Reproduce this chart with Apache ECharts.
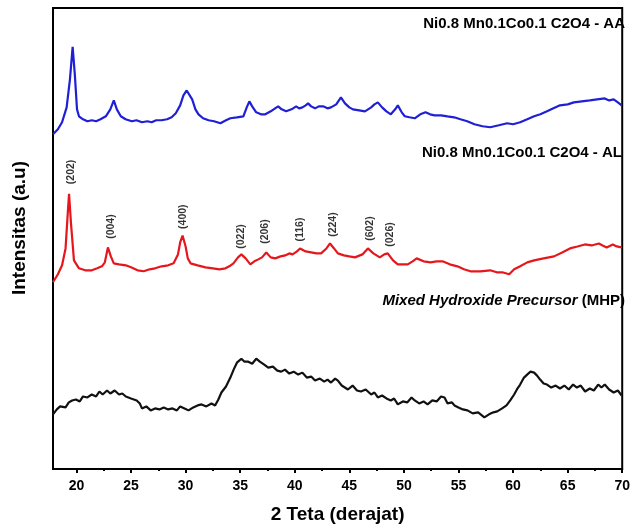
<!DOCTYPE html>
<html><head><meta charset="utf-8">
<script src="https://cdn.jsdelivr.net/npm/echarts@6/dist/echarts.min.js"></script>
<style>html,body{margin:0;padding:0;background:#fff}#c{width:633px;height:529px}</style>
</head><body><div id="c"></div>
<script>
const xTicks = [20, 25, 30, 35, 40, 45, 50, 55, 60, 65, 70];
const xMinorTicks = [22.5, 27.5, 32.5, 37.5, 42.5, 47.5, 52.5, 57.5, 62.5, 67.5];

const aaTheta = [17.85,18.3,18.68,19.1,19.4,19.65,19.85,20.05,20.23,20.6,21.0,21.41,21.8,22.2,22.69,23.1,23.42,23.7,24.06,24.5,25.07,25.5,26.0,26.5,26.89,27.3,27.8,28.3,28.72,29.1,29.5,29.8,30.1,30.27,30.6,30.9,31.18,31.6,32.1,32.6,33.19,33.7,34.1,34.7,35.29,35.6,35.84,36.1,36.47,36.9,37.3,37.8,38.2,38.48,38.8,39.21,39.7,40.13,40.4,40.7,41.0,41.22,41.5,41.86,42.2,42.59,43.0,43.32,43.8,44.23,44.6,45.0,45.33,45.9,46.43,47.0,47.3,47.61,48.0,48.4,48.8,49.2,49.44,49.8,50.08,50.5,50.99,51.5,51.98,52.4,52.81,53.4,53.99,54.6,55.18,55.8,56.46,57.2,57.91,58.7,59.46,60.0,60.65,61.3,61.93,62.5,63.11,63.7,64.3,65.0,65.57,66.3,67.03,67.7,68.4,68.8,69.22,69.6,69.95];
const aaIntensity = [337,342,349,364,392,425,397,362,355,352,350,351,350,352,355,362,371,362,355,352,350,351,349,350,349,351,351,352,354,358,366,376,381,381,372,362,357,353,351,350,348,351,353,354,355,364,370,365,359,357,357,360,363,365,362,360,362,365,363,364,366,368,365,363,365,365,363,364,367,374,368,364,362,361,360,364,367,369,364,360,357,362,366,359,355,354,353,357,359,357,356,356,355,354,352,350,347,345,344,346,348,347,349,352,355,357,360,363,366,367,369,370,371,372,373,371,372,369,366];

const alTheta = [17.85,18.3,18.68,19.0,19.2,19.32,19.5,19.77,20.23,20.8,21.41,21.9,22.33,22.6,22.88,23.15,23.42,23.9,24.52,25.0,25.6,26.16,26.7,27.2,27.81,28.4,28.9,29.3,29.5,29.72,30.0,30.2,30.45,31.1,31.82,32.5,33.1,33.65,34.0,34.38,34.8,35.11,35.5,35.93,36.3,36.66,37.0,37.39,37.8,38.21,38.7,39.12,39.5,39.8,40.2,40.49,41.0,41.5,42.0,42.41,42.9,43.23,43.6,43.95,44.5,45.0,45.51,46.2,46.7,47.2,47.5,47.79,48.2,48.52,49.0,49.44,49.9,50.35,50.8,51.17,51.8,52.44,53.0,53.54,54.2,54.9,55.5,56.09,57.0,57.91,58.5,59.0,59.65,60.1,60.65,61.3,61.93,62.8,63.75,64.5,65.21,65.9,66.58,67.2,67.86,68.2,68.58,69.13,69.5,69.95];
const alIntensity = [188,196,205,222,257,277,247,210,202,200,200,202,204,208,223,214,207,206,205,203,200,199,201,202,204,205,207,216,228,235,224,212,207,205,203,202,201,202,204,207,213,216,212,206,209,211,213,218,213,212,214,215,217,216,219,222,219,218,217,217,222,227,222,217,215,214,213,216,222,217,215,213,216,217,210,206,206,206,209,212,209,208,209,209,206,204,201,199,199,200,198,198,196,201,204,208,210,212,214,218,222,224,226,225,227,225,223,226,224,223];

const mhpTheta = [17.85,18.2,18.5,18.68,19.0,19.3,19.6,19.95,20.3,20.6,21.0,21.4,21.8,22.1,22.4,22.8,23.1,23.5,23.9,24.2,24.52,25.0,25.52,25.8,26.0,26.4,26.8,27.2,27.6,28.0,28.4,28.8,29.2,29.5,29.9,30.27,30.7,31.1,31.46,31.9,32.37,32.7,33.0,33.28,33.7,34.1,34.4,34.7,35.11,35.4,35.75,36.1,36.47,36.8,37.2,37.57,38.0,38.4,38.76,39.1,39.5,39.9,40.31,40.7,41.1,41.5,41.86,42.3,42.7,43.0,43.32,43.7,43.95,44.3,44.87,45.3,45.7,46.06,46.5,47.0,47.3,47.61,48.0,48.4,48.8,49.1,49.44,49.9,50.3,50.7,50.99,51.4,51.8,52.17,52.6,53.0,53.4,53.72,54.0,54.4,54.63,55.0,55.4,55.82,56.3,56.8,57.37,57.8,58.2,58.55,59.0,59.4,59.74,60.1,60.4,60.65,61.0,61.29,61.6,61.93,62.2,62.48,62.8,63.11,63.5,63.9,64.3,64.7,65.1,65.5,65.85,66.2,66.6,67.03,67.4,67.8,68.1,68.4,68.8,69.22,69.6,69.95];
const mhpIntensity = [55,60,63,64,62,67,69,70,68,73,72,75,73,78,75,79,76,79,75,76,73,71,69,66,61,63,59,61,60,62,60,61,59,63,61,59,62,64,65,63,66,64,70,77,83,92,100,107,111,108,108,106,111,108,105,102,103,99,98,100,96,98,95,97,92,93,89,91,88,90,87,91,89,84,80,84,79,78,80,75,77,72,74,71,69,71,65,68,67,72,69,66,68,65,69,68,73,72,66,67,64,62,60,59,56,57,52,55,57,58,61,64,69,75,81,85,92,95,98,97,94,90,86,85,82,84,81,84,80,85,82,84,78,81,79,85,82,85,80,77,79,74];

const peakLabels = ['(202)','(004)','(400)','(022)','(206)','(116)','(224)','(602)','(026)'];
const peakTheta = [19.5, 23.15, 29.81, 35.1, 37.29, 40.49, 43.5, 46.87, 48.7];
const peakLabelY = [299, 244, 254, 234, 239, 241, 246, 242, 236];

const seriesTitles = ['Ni0.8 Mn0.1Co0.1 C2O4 - AA', 'Ni0.8 Mn0.1Co0.1 C2O4 - AL'];

const zip = (a, b) => a.map((v, i) => [v, b[i]]);
const F = '"Liberation Sans", Arial, sans-serif';

const chart = echarts.init(document.getElementById('c'), null, {renderer: 'canvas'});
chart.setOption({
  animation: false,
  backgroundColor: '#fff',
  grid: {left: 53, right: 7.5, top: 8, bottom: 57, show: true, borderColor: '#000', borderWidth: 2, backgroundColor: 'transparent'},
  xAxis: [{
    type: 'value', min: 17.85, max: 70,
    name: '2 Teta (derajat)', nameLocation: 'middle', nameGap: 36,
    nameTextStyle: {fontFamily: F, fontWeight: 'bold', fontSize: 19, color: '#000'},
    axisLine: {show: true, onZero: false, lineStyle: {color: '#000', width: 2}},
    axisTick: {show: true, customValues: xTicks, length: 4, lineStyle: {color: '#000', width: 2}},
    axisLabel: {show: true, customValues: xTicks, margin: 10, fontFamily: F, fontWeight: 'bold', fontSize: 14, color: '#000'},
    splitLine: {show: false}
  }, {
    type: 'value', min: 17.85, max: 70, position: 'bottom',
    axisLine: {show: false},
    axisTick: {show: true, customValues: xMinorTicks, length: 2, lineStyle: {color: '#000', width: 2}},
    axisLabel: {show: false},
    splitLine: {show: false}
  }],
  yAxis: {
    type: 'value', min: 0, max: 464,
    axisLine: {show: true, lineStyle: {color: '#000', width: 2}},
    axisTick: {show: false}, axisLabel: {show: false}, splitLine: {show: false}
  },
  series: [
    {type: 'line', name: seriesTitles[0], data: zip(aaTheta, aaIntensity), symbol: 'none', lineStyle: {color: '#1f1fd6', width: 2.2}, z: 3},
    {type: 'line', name: seriesTitles[1], data: zip(alTheta, alIntensity), symbol: 'none', lineStyle: {color: '#e5171c', width: 2.2}, z: 3},
    {type: 'line', name: 'Mixed Hydroxide Precursor (MHP)', data: zip(mhpTheta, mhpIntensity), symbol: 'none', lineStyle: {color: '#111', width: 2.2}, z: 3},
    {type: 'scatter', silent: true, symbolSize: 1, itemStyle: {color: 'rgba(0,0,0,0)'},
     data: peakLabels.map((n, i) => ({name: n, value: [peakTheta[i], peakLabelY[i]]})),
     label: {show: true, position: 'inside', rotate: 90, formatter: '{b}', fontFamily: F, fontWeight: 'bold', fontSize: 10.5, color: '#000', textBorderWidth: 0}}
  ],
  graphic: [
    {type: 'text', x: 625, y: 24, silent: true, style: {text: seriesTitles[0], align: 'right', verticalAlign: 'middle', font: 'bold 15px ' + F, fill: '#000'}},
    {type: 'text', x: 622, y: 153, silent: true, style: {text: seriesTitles[1], align: 'right', verticalAlign: 'middle', font: 'bold 15px ' + F, fill: '#000'}},
    {type: 'text', x: 625, y: 301, silent: true, style: {
      text: '{i|Mixed Hydroxide Precursor} {n|(MHP)}', align: 'right', verticalAlign: 'middle', fill: '#000', font: 'bold 15px ' + F,
      rich: {i: {font: 'italic bold 15px ' + F, fill: '#000'}, n: {font: 'bold 15px ' + F, fill: '#000'}}}},
    {type: 'text', x: 20, y: 228, rotation: Math.PI / 2, silent: true, style: {text: 'Intensitas (a.u)', align: 'center', verticalAlign: 'middle', font: 'bold 19px ' + F, fill: '#000'}}
  ]
});
</script>
</body></html>
